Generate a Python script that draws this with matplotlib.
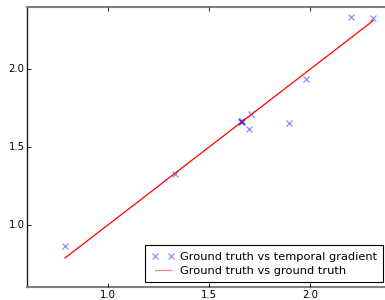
import matplotlib
matplotlib.use("Agg")
import matplotlib.pyplot as plt

ground_truth = [0.787, 1.332, 1.660, 1.662, 1.665, 1.658, 1.698, 1.708, 1.896, 1.980, 2.203, 2.312]
temporal_gradient = [0.865, 1.329, 1.665, 1.660, 1.668, 1.662, 1.613, 1.710, 1.652, 1.940, 2.335, 2.330]
gt_line = sorted(ground_truth)
xticks = [1.0, 1.5, 2.0]
yticks = [1.0, 1.5, 2.0]

plt.style.use("classic")
fig = plt.figure(figsize=(3.85, 3.0), dpi=100)
ax = fig.add_axes([27.3/385, 13/300, 363.6/385, 280/300])
ax.plot(ground_truth, temporal_gradient, 'x', color='blue', alpha=0.5,
        markersize=4.5, markeredgewidth=0.8, label='Ground truth vs temporal gradient')
ax.plot(gt_line, gt_line, '-', color='red', linewidth=0.9, label='Ground truth vs ground truth')
ax.set_xlim(0.6, 2.4)
ax.set_ylim(0.6, 2.4)
ax.set_xticks(xticks)
ax.set_yticks(yticks)
ax.tick_params(labelsize=7.3, length=3, width=0.6, pad=2)
for s in ['top', 'bottom']:
    ax.spines[s].set_color('#808080')
    ax.spines[s].set_linewidth(1.5)
ax.spines['left'].set_color('#202020')
ax.spines['left'].set_linewidth(1.0)
leg = ax.legend(loc='lower right', bbox_to_anchor=(383/385, 18/300), bbox_transform=fig.transFigure,
                fontsize=8.2, numpoints=2, borderaxespad=0, handlelength=2.0, borderpad=0.55,
                labelspacing=0.35, handletextpad=0.5)
leg.get_frame().set_linewidth(0.8)
leg.get_lines()[1].set_alpha(0.5)
fig.savefig("out.png", dpi=100)
